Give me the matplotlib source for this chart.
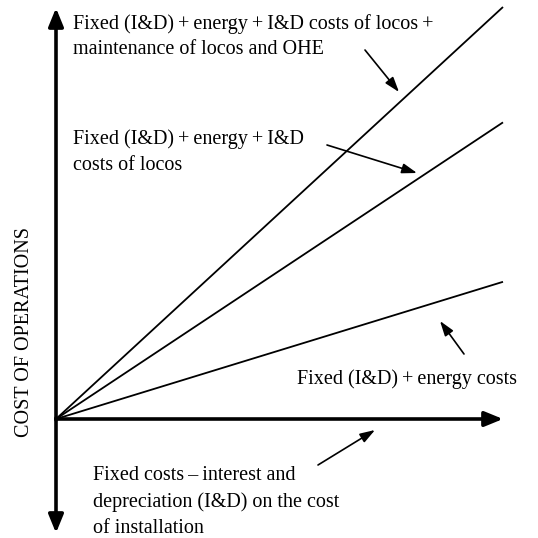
import matplotlib
matplotlib.use("Agg")
import matplotlib.pyplot as plt

plt.rcParams['font.family'] = ['Liberation Serif', 'DejaVu Serif']

# Schematic data: traffic volume (x) vs cost of operations (y), arbitrary units
volume = [0, 100]
cost_energy = [0, 33.3]
cost_locos = [0, 72.0]
cost_total = [0, 100.0]

label_total = ["Fixed (I&D)\u2009+\u2009energy\u2009+\u2009I&D costs of locos\u2009+",
               "maintenance of locos and OHE"]
label_locos = ["Fixed (I&D)\u2009+\u2009energy\u2009+\u2009I&D", "costs of locos"]
label_energy = ["Fixed (I&D)\u2009+\u2009energy costs"]
label_fixed = ["Fixed costs\u2009\u2013\u2009interest and",
               "depreciation (I&D) on the cost",
               "of installation"]
ylabel = "COST OF OPERATIONS"

W = H = 538
fig = plt.figure(figsize=(W / 100, H / 100), dpi=100)
ox, oy = 56, 419
ax = fig.add_axes([ox / W, (H - oy) / H, 447 / W, 412 / H])
ax.set_xlim(0, 100)
ax.set_ylim(0, 100)
ax.axis('off')

sx, sy = 447 / 100, 412 / 100
def d(px, py):
    return ((px - ox) / sx, (oy - py) / sy)

# axes arrows
ap = dict(arrowstyle='-|>,head_length=1.1,head_width=0.45', lw=2.6, color='black', shrinkA=0, shrinkB=0)
ax.annotate('', xy=d(503, 419), xytext=d(56, 419), arrowprops=ap, annotation_clip=False)
ax.annotate('', xy=d(56, 8), xytext=d(56, 420), arrowprops=ap, annotation_clip=False)
ax.annotate('', xy=d(56, 533), xytext=d(56, 418), arrowprops=ap, annotation_clip=False)

# cost lines
for c in (cost_energy, cost_locos, cost_total):
    ax.plot(volume, c, color='black', lw=1.3, clip_on=False, solid_capstyle='butt')

fs = 14.5
def put(lines, px, baselines):
    for s, b in zip(lines, baselines):
        ax.text(*d(px, b), s, fontsize=fs, ha='left', va='baseline', clip_on=False)

put(label_total, 73, [29, 54])
put(label_locos, 73, [144, 170])
put(label_energy, 297, [384])
put(label_fixed, 93, [480, 507, 533])

fig.text(25 / W, 1 - 332 / H, ylabel, fontsize=fs, rotation=90, ha='center', va='center')

arrows = [((365, 50), (399, 92)), ((327, 145), (417, 173)), ((464, 354), (440, 321)), ((318, 465), (375, 430))]
for tail, tip in arrows:
    ax.annotate('', xy=d(*tip), xytext=d(*tail),
                arrowprops=dict(arrowstyle='-|>,head_length=0.9,head_width=0.3', lw=1.2, color='black',
                                shrinkA=0, shrinkB=0), annotation_clip=False)

fig.savefig('out.png', dpi=100, facecolor='white')
